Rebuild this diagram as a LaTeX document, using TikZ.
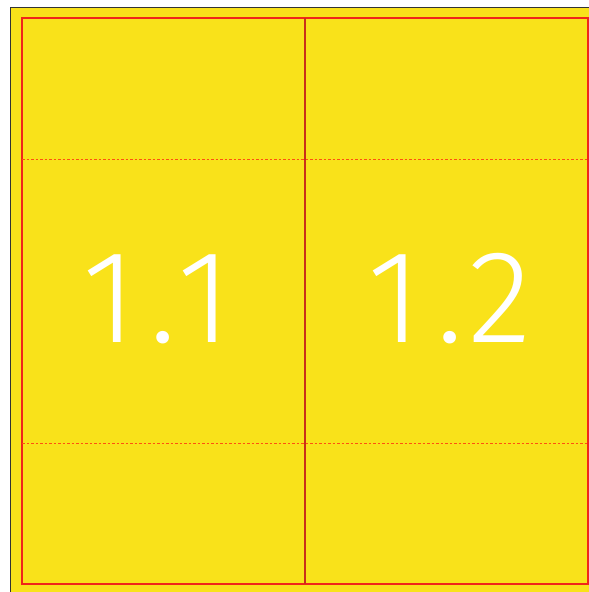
\documentclass[tikz,border=0pt]{standalone}
\usepackage{fontspec}
\newfontfamily\thinfont{Fira Sans Light}
\definecolor{bgyellow}{HTML}{F9E21A}
\definecolor{lred}{HTML}{F0261A}
\definecolor{dred}{HTML}{C8301A}
\definecolor{dotred}{HTML}{FF5010}
\begin{document}
\begin{tikzpicture}[x=1pt,y=-1pt,
  border/.style={draw=black!80,line width=1.4pt},
  frame/.style={draw=lred,line width=1.2pt},
  divider/.style={draw=dred,line width=1.1pt},
  guide/.style={draw=dotred,line width=1.2pt,dash pattern=on 2.5pt off 2pt},
  lbl/.style={text=white,font=\thinfont\fontsize{132}{132}\selectfont,inner sep=0pt}]
\useasboundingbox (0,0) rectangle (589,592);
\fill[bgyellow] (10.5,7.5) rectangle (589,592);
\draw[border] (10.5,592) -- (10.5,7.5) -- (589,7.5);
\draw[frame] (22,18) rectangle (588,584);
\draw[divider] (305,18) -- (305,584);
\draw[guide] (22,159.5) -- (588,159.5);
\draw[guide] (22,443.5) -- (588,443.5);
\node[lbl] (a) at (157,299) {1\hspace{13pt}.\hspace{0pt}1};
\node[lbl] (b) at (450,299) {1\hspace{14pt}.\hspace{5pt}2};
\end{tikzpicture}
\end{document}
